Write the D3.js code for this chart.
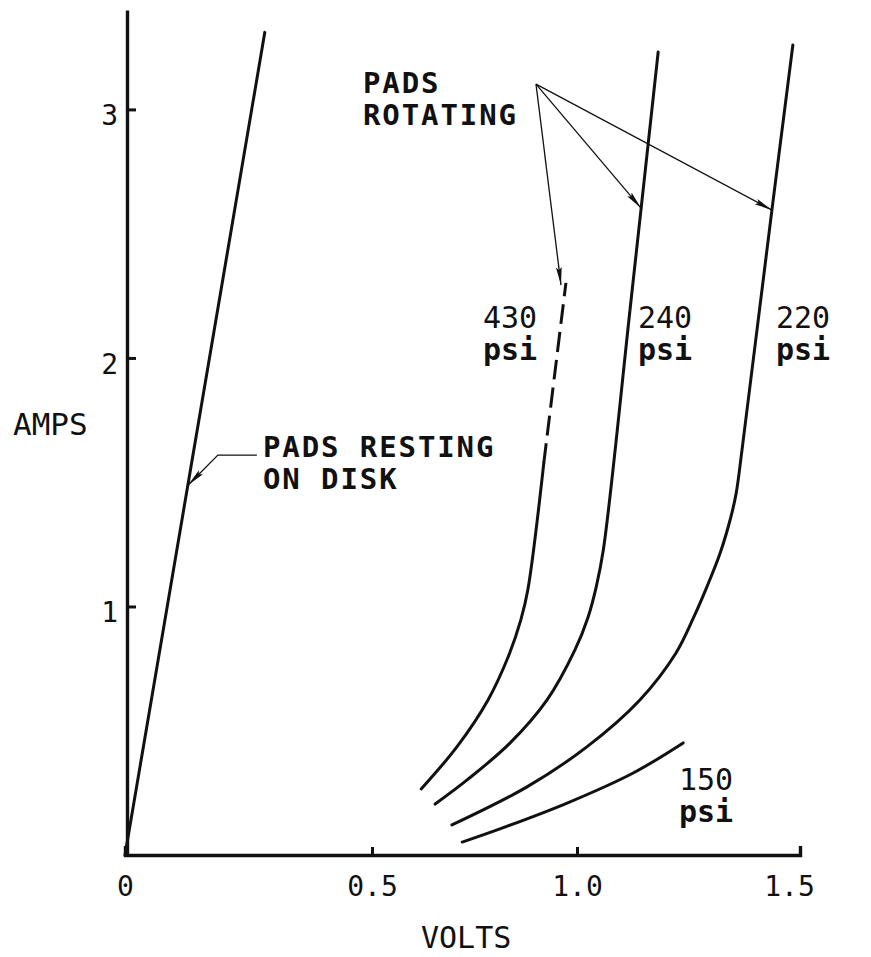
<!DOCTYPE html>
<html>
<head>
<meta charset="utf-8">
<script src="https://d3js.org/d3.v7.min.js"></script>
<style>
  body { margin: 0; background: #fff; }
  text { font-family: "DejaVu Sans Mono", monospace; fill: #111; }
</style>
</head>
<body>
<script>
// [volts, amps]
var resting = [[0, 0], [0.283, 3.31]];
var psi430 = [[0.620, 0.266], [0.707, 0.435], [0.783, 0.624], [0.834, 0.805], [0.863, 0.946],
              [0.880, 1.066], [0.919, 1.577]];
var psi430Dash = [[0.919, 1.577], [0.946, 1.940], [0.973, 2.302]];
var psi240 = [[0.654, 0.205], [0.732, 0.302], [0.837, 0.451], [0.927, 0.624], [0.995, 0.825],
              [1.025, 0.958], [1.043, 1.078], [1.059, 1.227], [1.121, 2.229], [1.182, 3.231]];
var psi220 = [[0.695, 0.121], [0.878, 0.274], [1.022, 0.435], [1.141, 0.624], [1.222, 0.813],
              [1.262, 0.958], [1.291, 1.078], [1.321, 1.215], [1.345, 1.360], [1.357, 1.457],
              [1.370, 1.630], [1.437, 2.595], [1.484, 3.259]];
var psi150 = [[0.720, 0.052], [0.812, 0.105], [0.976, 0.209], [1.126, 0.330], [1.238, 0.451]];

var xTicks = [0, 0.5, 1.0, 1.5];
var xTickLabels = ['0', '0.5', '1.0', '1.5'];
var yTicks = [1, 2, 3];

// arrow annotations, also in volts/amps
var rotApex = [0.900, 3.102];
var rotTargets = [[0.961, 2.293], [1.1435, 2.603], [1.437, 2.595]];
var restLeader = [[0.267, 1.609], [0.188, 1.609], [0.128, 1.489]];

var W = 871, H = 957;

// hand drawn axis is not quite even, so the x scale goes through the tick marks
var x = d3.scaleLinear().domain([0, 0.5, 1, 1.5]).range([125, 372, 577, 800]);
var y = d3.scaleLinear().domain([0, 3.4]).range([855, 10]);

var svg = d3.select('body').append('svg').attr('width', W).attr('height', H);

svg.append('defs').append('marker')
  .attr('id', 'head')
  .attr('markerUnits', 'userSpaceOnUse')
  .attr('markerWidth', 19).attr('markerHeight', 9)
  .attr('refX', 18).attr('refY', 4.5)
  .attr('orient', 'auto')
  .append('path').attr('d', 'M0,1.6 L18,4.5 L0,7.4 L3,4.5 Z').attr('fill', '#111');

// axes
var xAxis = d3.axisBottom(x).tickValues(xTicks)
  .tickFormat(function (d, i) { return xTickLabels[i]; })
  .tickSizeInner(-8).tickSizeOuter(-9).tickPadding(21);
var gx = svg.append('g').attr('transform', 'translate(0,' + y(0) + ')').call(xAxis)
  .attr('font-family', '"DejaVu Sans Mono", monospace').attr('font-size', 28);
gx.select('.domain').attr('stroke', '#111').attr('stroke-width', 3.4);
gx.selectAll('.tick line').attr('stroke', '#111').attr('stroke-width', 3);
gx.selectAll('.tick text').attr('fill', '#111')
  .attr('dx', function (d, i) { return i === xTicks.length - 1 ? -11 : 0; });

var yAxis = d3.axisLeft(y).tickValues(yTicks).tickFormat(d3.format('d'))
  .tickSizeInner(-9).tickSizeOuter(0).tickPadding(9);
var gy = svg.append('g').attr('transform', 'translate(' + (x(0) + 2) + ',0)').call(yAxis)
  .attr('font-family', '"DejaVu Sans Mono", monospace').attr('font-size', 28);
gy.select('.domain').attr('stroke', '#111').attr('stroke-width', 3.4);
gy.selectAll('.tick line').attr('stroke', '#111').attr('stroke-width', 3);
gy.selectAll('.tick text').attr('fill', '#111').attr('dy', '0.55em');

// curves
var line = d3.line().x(function (d) { return x(d[0]); }).y(function (d) { return y(d[1]); })
  .curve(d3.curveCatmullRom.alpha(0.5));

[resting, psi430, psi240, psi220, psi150].forEach(function (s) {
  svg.append('path').datum(s).attr('d', line)
    .attr('fill', 'none').attr('stroke', '#111').attr('stroke-width', 3)
    .attr('stroke-linecap', 'round');
});
svg.append('path').datum(psi430Dash).attr('d', line)
  .attr('fill', 'none').attr('stroke', '#111').attr('stroke-width', 3)
  .attr('stroke-dasharray', '20,8');

// pointers
var straight = d3.line().x(function (d) { return x(d[0]); }).y(function (d) { return y(d[1]); });
rotTargets.forEach(function (t) {
  svg.append('path').datum([rotApex, t]).attr('d', straight)
    .attr('fill', 'none').attr('stroke', '#111').attr('stroke-width', 1.3)
    .attr('marker-end', 'url(#head)');
});
svg.append('path').datum(restLeader).attr('d', straight)
  .attr('fill', 'none').attr('stroke', '#111').attr('stroke-width', 1.3)
  .attr('marker-end', 'url(#head)');

// labels (two-line ones as one text with tspans)
function label(lines, px, py, size, weights, gap, spacing) {
  var t = svg.append('text').attr('x', px).attr('y', py).attr('font-size', size)
    .attr('letter-spacing', spacing || 0);
  lines.forEach(function (s, i) {
    t.append('tspan').attr('x', px).attr('dy', i === 0 ? 0 : gap)
      .attr('font-weight', weights[i] || 'normal').text(s);
  });
}
label(['AMPS'], 13, 435, 31, []);
label(['VOLTS'], 421, 948, 30, []);
label(['PADS RESTING', 'ON DISK'], 263, 457, 29, ['bold', 'bold'], 32, 1.9);
label(['PADS', 'ROTATING'], 363, 93, 29, ['bold', 'bold'], 32, 1.9);
label(['430', 'psi'], 483, 328, 30, ['normal', 'bold'], 32);
label(['240', 'psi'], 638, 328, 30, ['normal', 'bold'], 32);
label(['220', 'psi'], 776, 328, 30, ['normal', 'bold'], 32);
label(['150', 'psi'], 679, 790, 30, ['normal', 'bold'], 32);
</script>
</body>
</html>
